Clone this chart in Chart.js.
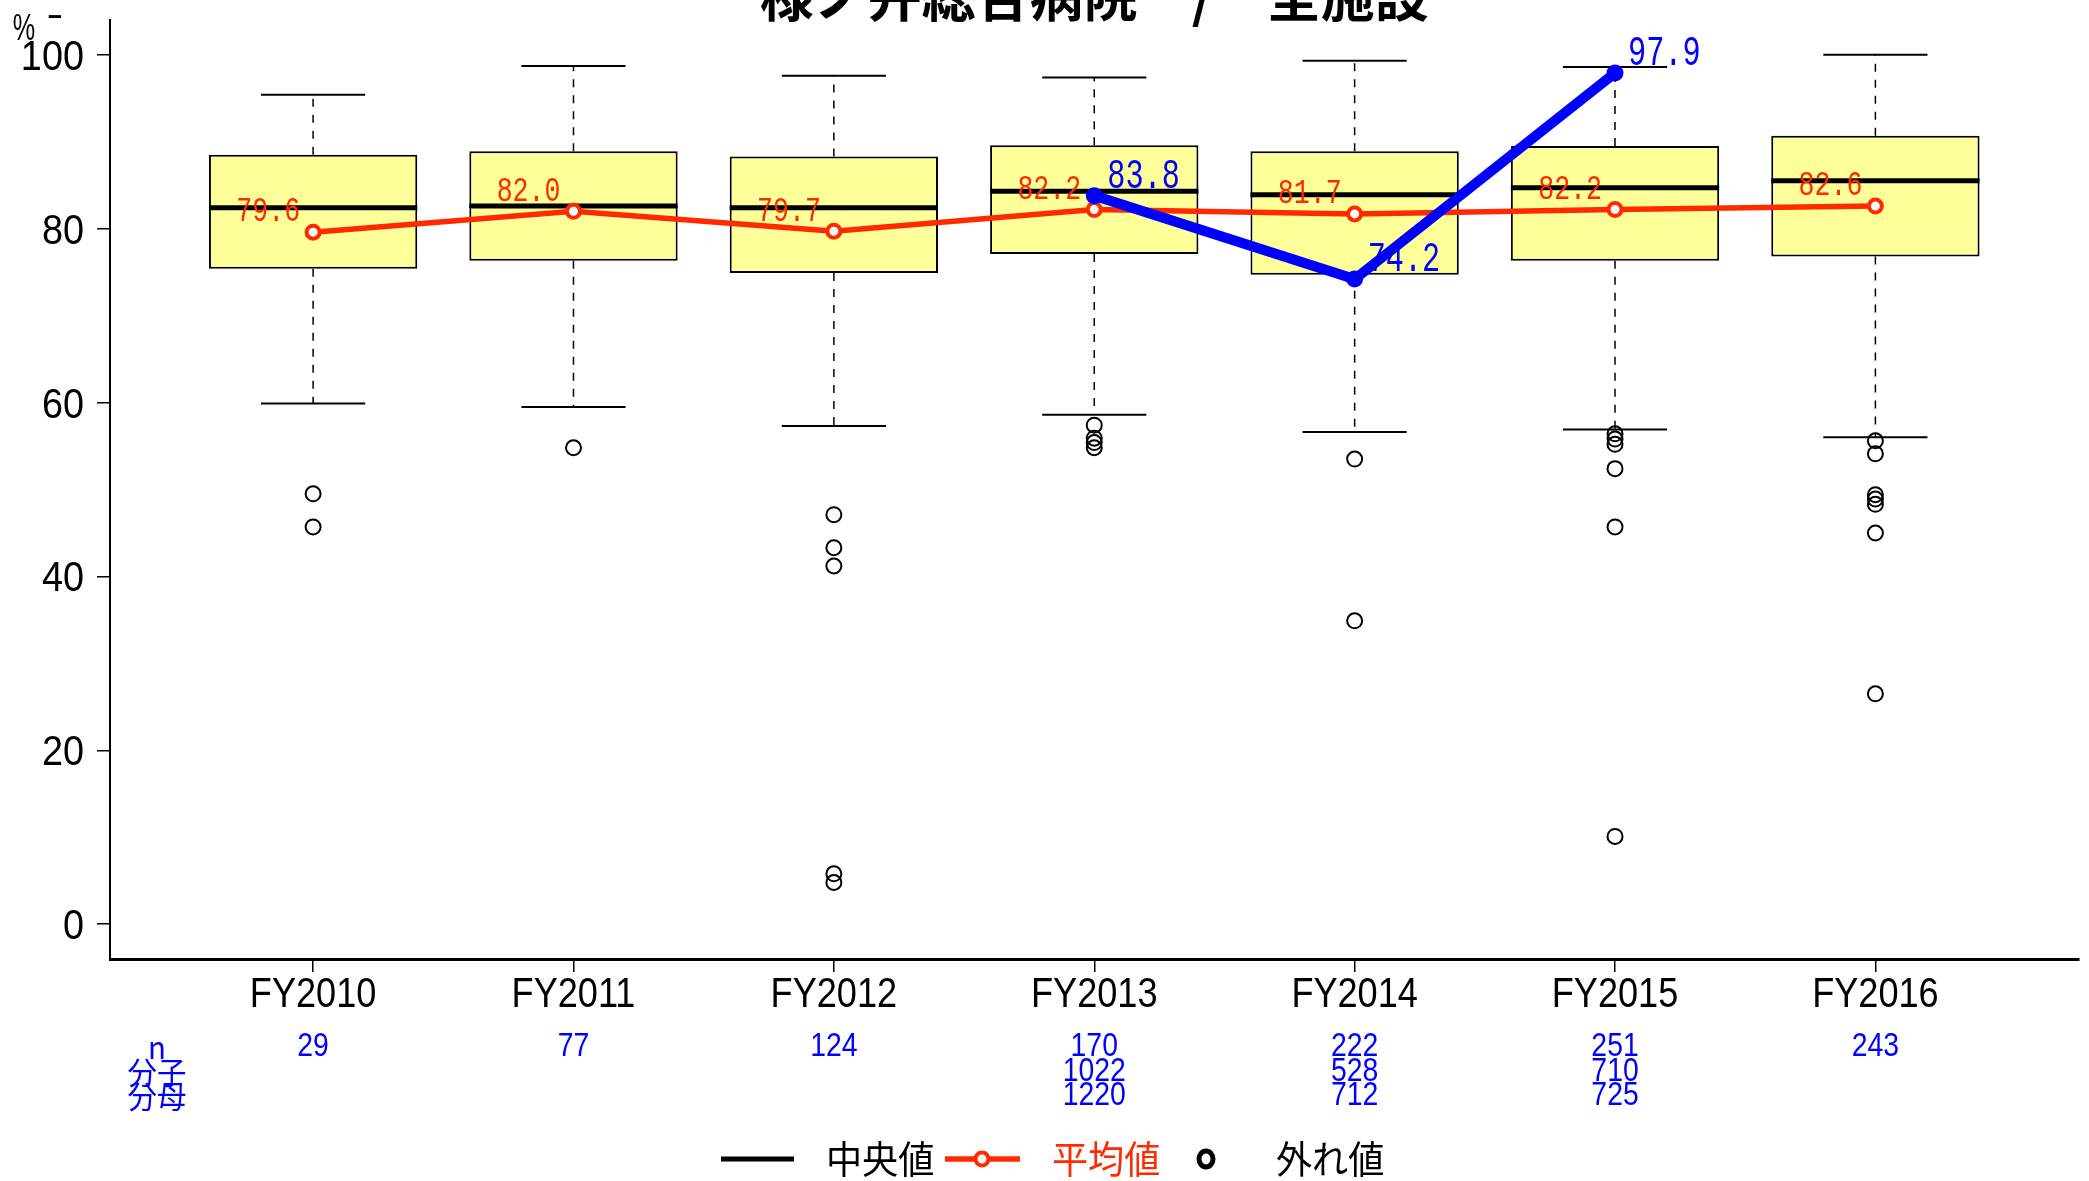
<!DOCTYPE html>
<html>
<head>
<meta charset="utf-8">
<script src="https://cdn.jsdelivr.net/npm/chart.js@4.4.0/dist/chart.umd.min.js"></script>
<style>
  html, body { margin: 0; padding: 0; background: #fff; }
  #wrap { width: 2089px; height: 1181px; }
</style>
</head>
<body>
<div id="wrap"><canvas id="box" width="2089" height="1181"></canvas></div>
<script>
// 箱ひげ図 + 平均値 + 自院の値

const categories = ['FY2010', 'FY2011', 'FY2012', 'FY2013', 'FY2014', 'FY2015', 'FY2016'];
const whiskerHigh = [95.4, 98.7, 97.6, 97.4, 99.3, 98.6, 100.0];
const boxHigh = [88.5, 88.9, 88.3, 89.6, 88.9, 89.5, 90.7];
const medians = [82.4, 82.6, 82.4, 84.3, 83.9, 84.7, 85.5];
const boxLow = [75.4, 76.3, 74.9, 77.1, 74.7, 76.3, 76.8];
const whiskerLow = [59.9, 59.5, 57.3, 58.6, 56.6, 56.9, 56.0];
const outliers = [
  [49.5, 45.7],
  [54.8],
  [47.1, 43.3, 41.2, 5.8, 4.8],
  [57.4, 55.9, 55.4, 54.8],
  [53.5, 34.9],
  [56.4, 55.8, 55.2, 52.4, 45.7, 10.1],
  [55.6, 54.1, 49.4, 48.9, 48.3, 45.0, 26.5],
];
const means = [79.6, 82.0, 79.7, 82.2, 81.7, 82.2, 82.6];
const hospital = [null, null, null, 83.8, 74.2, 97.9, null];
const nCounts = [29, 77, 124, 170, 222, 251, 243];
const numerators = [null, null, null, 1022, 528, 710, null];
const denominators = [null, null, null, 1220, 712, 725, null];
const yTicks = [0, 20, 40, 60, 80, 100];
const rowLabels = ['n', '分子', '分母'];
const legendLabels = ['中央値', '平均値', '外れ値'];
const title = '様ノ弁総合病院　/　全施設';

const SANS = '"Liberation Sans", Arial, sans-serif';
const MONO = '"Liberation Mono", "DejaVu Sans Mono", monospace';
const CJK = '"Noto Sans CJK JP", "Noto Sans", sans-serif';
const RED = '#ff2a00';
const BLUE = '#0000ff';

// x 軸の単位幅 -> px
function unitPx(chart, w) {
  const s = chart.scales.x;
  return Math.abs(s.getPixelForValue(1 + w) - s.getPixelForValue(1));
}

// 横に詰めた文字
function squeeze(ctx, txt, x, y, sx, align) {
  ctx.save();
  ctx.translate(x, y);
  ctx.scale(sx, 1);
  ctx.textAlign = align;
  ctx.fillText(txt, 0, 0);
  ctx.restore();
}

const xs = categories.map((_, i) => i + 1);

const whiskerData = [];
xs.forEach((x, i) => {
  whiskerData.push({ x, y: boxHigh[i] }, { x, y: whiskerHigh[i] }, { x, y: null });
  whiskerData.push({ x, y: boxLow[i] }, { x, y: whiskerLow[i] }, { x, y: null });
});
const capData = [];
xs.forEach((x, i) => {
  capData.push({ x, y: whiskerHigh[i] }, { x, y: whiskerLow[i] });
});
const outlierData = [];
outliers.forEach((arr, i) => arr.forEach((v) => outlierData.push({ x: xs[i], y: v })));

// 目盛ラベル・値ラベル・表・凡例
const extrasPlugin = {
  id: 'extras',
  afterDatasetsDraw(chart) {
    const { ctx, scales } = chart;
    const sx = scales.x, sy = scales.y;
    ctx.save();
    ctx.textBaseline = 'middle';
    // 平均値ラベル（左上）
    ctx.fillStyle = RED;
    ctx.font = '35px ' + MONO;
    means.forEach((v, i) => {
      squeeze(ctx, v.toFixed(1), sx.getPixelForValue(xs[i]) - 13, sy.getPixelForValue(v) - 20, 0.76, 'right');
    });
    // 自院ラベル（右上）
    ctx.fillStyle = BLUE;
    ctx.font = '42px ' + MONO;
    hospital.forEach((v, i) => {
      if (v == null) return;
      squeeze(ctx, v.toFixed(1), sx.getPixelForValue(xs[i]) + 13, sy.getPixelForValue(v) - 19, 0.72, 'left');
    });
    ctx.restore();
  },
  afterDraw(chart) {
    const { ctx, scales } = chart;
    const sx = scales.x, sy = scales.y;
    ctx.save();
    ctx.fillStyle = '#000';
    ctx.textBaseline = 'alphabetic';

    // 軸の目盛ラベル
    ctx.font = '43px ' + SANS;
    sy.ticks.forEach((t) => {
      squeeze(ctx, t.label, 84, sy.getPixelForValue(t.value) + 15, 0.88, 'right');
    });
    ctx.font = '42px ' + SANS;
    sx.ticks.forEach((t) => {
      squeeze(ctx, t.label, sx.getPixelForValue(t.value), 1007, 0.86, 'center');
    });

    // タイトル（上が切れている）
    ctx.font = 'bold 54px ' + CJK;
    ctx.textAlign = 'center';
    ctx.textBaseline = 'ideographic';
    ctx.fillText(title, (chart.chartArea.left + chart.chartArea.right) / 2, 23);

    // 単位
    ctx.textBaseline = 'alphabetic';
    ctx.font = '36px ' + SANS;
    squeeze(ctx, '%', 24, 40, 0.7, 'center');
    squeeze(ctx, '-', 55, 26, 1.4, 'center');

    // n / 分子 / 分母
    ctx.textBaseline = 'middle';
    const rowY = [1047, 1072, 1096];
    ctx.fillStyle = BLUE;
    ctx.font = '31px ' + CJK;
    rowLabels.forEach((t, r) => squeeze(ctx, t, 157, rowY[r], 0.95, 'center'));
    ctx.font = '33px ' + SANS;
    [nCounts, numerators, denominators].forEach((row, r) => {
      row.forEach((v, i) => {
        if (v == null) return;
        squeeze(ctx, String(v), sx.getPixelForValue(xs[i]), rowY[r], 0.86, 'center');
      });
    });

    // 凡例
    const ly = 1159;
    ctx.lineCap = 'butt';
    ctx.strokeStyle = '#000';
    ctx.lineWidth = 5;
    ctx.beginPath(); ctx.moveTo(721, ly); ctx.lineTo(794, ly); ctx.stroke();
    ctx.font = '38px ' + CJK;
    ctx.fillStyle = '#000';
    squeeze(ctx, legendLabels[0], 826, ly, 0.95, 'left');

    ctx.strokeStyle = RED;
    ctx.lineWidth = 5.5;
    ctx.beginPath(); ctx.moveTo(945, ly); ctx.lineTo(1020, ly); ctx.stroke();
    ctx.lineWidth = 4;
    ctx.fillStyle = '#fff';
    ctx.beginPath(); ctx.arc(982, ly, 6.5, 0, Math.PI * 2); ctx.fill(); ctx.stroke();
    ctx.fillStyle = RED;
    squeeze(ctx, legendLabels[1], 1052, ly, 0.95, 'left');

    ctx.strokeStyle = '#000';
    ctx.lineWidth = 5;
    ctx.beginPath(); ctx.ellipse(1206, ly, 7, 8, 0, 0, Math.PI * 2); ctx.stroke();
    ctx.fillStyle = '#000';
    squeeze(ctx, legendLabels[2], 1276, ly, 0.95, 'left');
    ctx.restore();
  },
};

new Chart(document.getElementById('box').getContext('2d'), {
  type: 'scatter',
  data: {
    datasets: [
      {
        type: 'bar',
        data: xs.map((x, i) => ({ x, y: [boxLow[i], boxHigh[i]] })),
        backgroundColor: '#ffff99',
        borderColor: '#000',
        borderWidth: 2,
        borderSkipped: false,
        barPercentage: 0.8,
        categoryPercentage: 1,
        grouped: false,
        order: 7,
      },
      {
        type: 'line',
        data: whiskerData,
        borderColor: '#000',
        borderWidth: 1.5,
        borderDash: [8, 8],
        pointRadius: 0,
        spanGaps: false,
        order: 6,
      },
      {
        data: capData,
        pointStyle: 'line',
        pointRadius: (c) => unitPx(c.chart, 0.2),
        pointBorderColor: '#000',
        pointBorderWidth: 2,
        order: 5,
      },
      {
        data: xs.map((x, i) => ({ x, y: medians[i] })),
        pointStyle: 'line',
        pointRadius: (c) => unitPx(c.chart, 0.4),
        pointBorderColor: '#000',
        pointBorderWidth: 5,
        order: 4,
      },
      {
        data: outlierData,
        pointStyle: 'circle',
        pointRadius: 7.5,
        pointBorderColor: '#000',
        pointBackgroundColor: 'rgba(0,0,0,0)',
        pointBorderWidth: 2,
        order: 3,
      },
      {
        type: 'line',
        data: xs.map((x, i) => ({ x, y: means[i] })),
        borderColor: RED,
        borderWidth: 5.5,
        pointRadius: 6.5,
        pointBorderWidth: 4,
        pointBorderColor: RED,
        pointBackgroundColor: '#fff',
        order: 2,
      },
      {
        type: 'line',
        data: xs.map((x, i) => ({ x, y: hospital[i] })),
        borderColor: BLUE,
        borderWidth: 10,
        pointRadius: 8.5,
        pointBorderWidth: 0,
        pointBackgroundColor: BLUE,
        spanGaps: false,
        order: 1,
      },
    ],
  },
  options: {
    responsive: false,
    animation: false,
    events: [],
    layout: { padding: { top: 20, right: 8, left: 0, bottom: 0 } },
    plugins: { legend: { display: false }, tooltip: { enabled: false } },
    scales: {
      x: {
        type: 'linear',
        min: 0.22,
        max: categories.length + 0.78,
        offset: false,
        afterBuildTicks: (s) => { s.ticks = xs.map((v) => ({ value: v })); },
        afterFit: (s) => { s.height = 222; s.paddingLeft = 0; s.paddingRight = 0; },
        ticks: { display: false, callback: (v) => categories[v - 1], autoSkip: false },
        grid: { offset: false, drawOnChartArea: false, drawTicks: true, tickLength: 13, color: '#000', lineWidth: 1.5 },
        border: { display: true, color: '#000', width: 3 },
      },
      y: {
        type: 'linear',
        min: -4,
        max: 104,
        afterBuildTicks: (s) => { s.ticks = yTicks.map((v) => ({ value: v })); },
        afterFit: (s) => { s.width = 110; s.paddingTop = 0; s.paddingBottom = 0; },
        ticks: { display: false, callback: (v) => String(v) },
        grid: { drawOnChartArea: false, drawTicks: true, tickLength: 13, color: '#000', lineWidth: 1.5 },
        border: { display: true, color: '#000', width: 2 },
      },
    },
  },
  plugins: [extrasPlugin],
});
</script>
</body>
</html>
